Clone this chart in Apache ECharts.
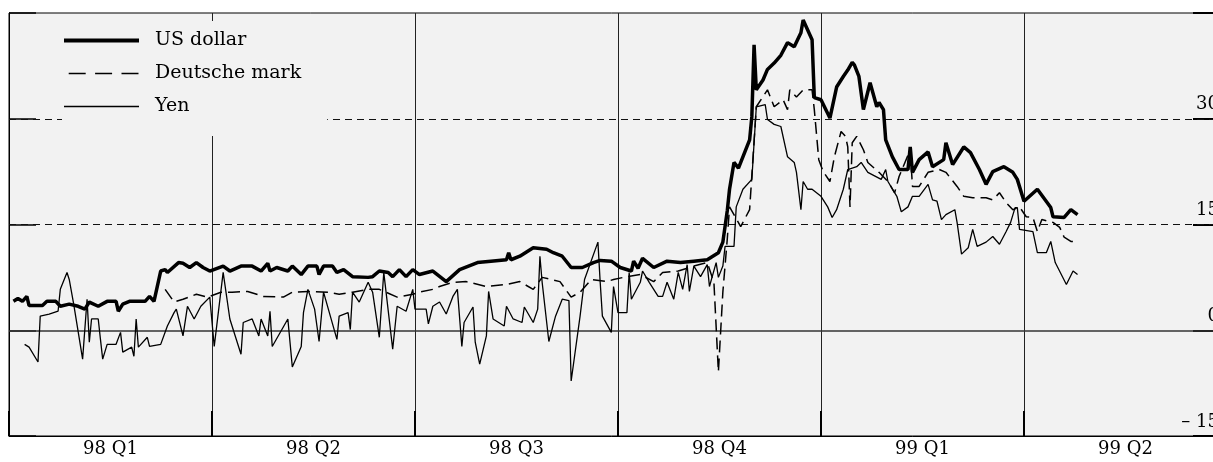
<!DOCTYPE html>
<html><head><meta charset="utf-8">
<script src="https://cdn.jsdelivr.net/npm/echarts/dist/echarts.min.js"></script>
<style>html,body{margin:0;padding:0;background:#fff}#c{width:1213px;height:462px}</style>
</head><body><div id="c"></div>
<script>
// quarter labels (x axis), day 0 = 1 Jan 1998, span = 6 quarters
const quarters = ['98 Q1','98 Q2','98 Q3','98 Q4','99 Q1','99 Q2'];
const daySpan = 546;
const yMin = -15, yMax = 45, yStep = 15;
const dashedLevels = [15, 30];
const solidLevels = [0];

// [day, percent]
const usDollar = [[2,4.1],[4,4.5],[6,4.1],[8,4.8],[9,3.5],[15,3.5],[17,4.1],[21,4.1],[23,3.4],[27,3.7],[31,3.4],[34,3.0],[36,4.0],[40,3.4],[44,4.1],[48,4.1],[49,2.7],[51,3.7],[54,4.1],[61,4.1],[63,4.8],[65,4.1],[68,8.4],[70,8.6],[71,8.2],[76,9.6],[78,9.5],[81,8.9],[84,9.6],[87,8.9],[90,8.4],[96,9.1],[99,8.4],[104,9.1],[109,9.1],[113,8.4],[116,9.5],[117,8.4],[120,8.9],[125,8.4],[127,9.1],[131,7.9],[134,9.1],[138,9.1],[139,7.9],[141,9.1],[145,9.1],[147,8.2],[150,8.6],[154,7.6],[161,7.5],[163,7.6],[166,8.4],[170,8.2],[172,7.6],[175,8.6],[178,7.6],[181,8.6],[184,7.9],[190,8.4],[192,7.9],[196,6.9],[202,8.6],[210,9.6],[216,9.8],[223,10.0],[224,11.0],[225,10.0],[229,10.5],[235,11.7],[241,11.5],[244,11.0],[248,10.5],[252,8.9],[257,8.9],[262,9.6],[265,9.9],[270,9.8],[274,8.9],[279,8.4],[280,9.8],[282,8.8],[284,10.2],[289,8.9],[295,9.8],[301,9.6],[307,9.8],[313,10.0],[318,11.0],[320,12.5],[322,17.0],[323,20.0],[325,23.8],[327,23.0],[332,27.0],[333,30.3],[334,40.5],[335,34.1],[338,35.5],[340,37.0],[343,37.9],[346,39.0],[349,40.8],[352,40.2],[355,42.2],[356,44.0],[360,41.2],[361,33.0],[364,32.7],[368,30.1],[371,34.5],[374,36.0],[376,36.9],[378,38.0],[379,37.6],[381,36.0],[383,31.3],[386,35.1],[389,31.7],[390,32.3],[392,31.3],[393,27.0],[396,24.6],[399,22.8],[403,22.8],[404,26.0],[405,22.4],[408,24.2],[412,25.3],[414,23.2],[419,24.2],[420,26.6],[423,23.5],[428,26.0],[431,25.2],[435,22.8],[438,20.7],[441,22.5],[446,23.2],[450,22.4],[452,21.4],[455,18.3],[461,20.0],[467,17.4],[468,16.1],[473,16.0],[476,17.1],[479,16.4]];

const deutscheMark = [[70,5.8],[74,4.0],[78,4.4],[84,5.1],[89,4.7],[95,5.4],[100,5.4],[107,5.5],[114,4.8],[123,4.7],[127,5.4],[134,5.5],[143,5.4],[148,5.1],[154,5.4],[161,5.8],[166,5.8],[174,4.7],[181,5.1],[184,5.4],[190,5.8],[193,6.2],[199,6.8],[205,6.9],[214,6.2],[223,6.5],[229,6.9],[235,5.8],[239,7.5],[247,6.9],[252,4.7],[256,5.4],[261,7.2],[268,6.9],[271,7.2],[277,7.6],[283,7.9],[289,6.9],[293,8.2],[300,8.4],[307,9.1],[313,9.6],[316,6.8],[318,-5.9],[320,5.4],[322,13.0],[323,17.5],[328,14.7],[332,17.1],[335,31.7],[340,34.1],[343,31.7],[347,32.7],[349,31.3],[350,34.1],[353,33.1],[356,34.1],[360,34.1],[361,31.3],[363,24.2],[365,22.5],[368,21.1],[370,24.6],[373,28.2],[375,27.5],[376,26.0],[377,17.5],[378,26.6],[380,27.5],[383,25.6],[385,23.8],[390,22.4],[394,21.1],[397,19.5],[399,21.8],[404,25.6],[405,20.4],[408,20.4],[412,22.4],[417,22.8],[420,22.4],[425,20.4],[428,19.0],[432,18.8],[438,18.8],[441,18.5],[444,19.5],[447,18.1],[450,17.1],[453,17.5],[456,16.1],[459,16.0],[461,14.0],[463,15.7],[468,15.3],[471,14.6],[473,13.2],[476,12.6],[479,12.6]];

const yen = [[7,-2.0],[9,-2.4],[13,-4.5],[14,2.0],[18,2.3],[22,2.7],[23,5.8],[26,8.2],[27,7.2],[29,3.7],[33,-4.1],[35,4.4],[36,-1.7],[37,1.6],[40,1.6],[41,-1.3],[42,-4.1],[44,-2.0],[48,-2.0],[50,-0.3],[51,-3.1],[55,-2.4],[56,-3.7],[57,1.6],[58,-2.4],[62,-1.0],[63,-2.3],[68,-2.0],[71,0.6],[74,2.5],[75,3.0],[78,-0.8],[80,3.4],[83,1.6],[86,3.4],[90,4.7],[92,-2.3],[96,8.2],[99,1.6],[104,-3.4],[105,1.1],[109,1.6],[112,-0.8],[113,1.6],[116,-0.8],[117,2.7],[118,-2.3],[125,1.6],[127,-5.2],[131,-2.3],[132,2.5],[134,5.8],[137,3.0],[139,-1.6],[141,5.4],[147,-1.3],[148,2.0],[152,2.5],[153,0.1],[154,5.4],[157,4.0],[161,6.8],[163,5.4],[166,-1.0],[168,8.2],[172,-2.7],[174,3.4],[178,2.7],[181,5.8],[182,3.0],[187,3.0],[188,0.9],[190,3.4],[193,4.0],[196,2.3],[199,4.8],[201,5.8],[203,-2.3],[204,1.1],[208,3.3],[209,-1.7],[211,-4.8],[214,-0.8],[215,5.5],[217,1.6],[222,0.6],[223,3.4],[226,1.6],[230,1.1],[231,3.3],[235,1.1],[237,3.0],[238,10.5],[239,6.8],[242,-1.6],[245,2.0],[248,4.4],[251,4.2],[252,-7.2],[256,2.0],[258,7.2],[264,12.5],[265,6.9],[266,2.0],[270,-0.3],[271,6.2],[273,2.5],[277,2.5],[278,8.2],[279,4.4],[283,6.8],[284,8.4],[287,6.8],[291,4.8],[293,4.8],[295,6.8],[298,4.4],[300,8.2],[302,5.8],[304,9.3],[305,5.5],[307,9.1],[310,7.6],[313,9.3],[314,6.2],[317,9.6],[318,7.5],[320,9.1],[321,11.9],[325,11.9],[326,17.5],[329,20.0],[333,21.4],[335,31.7],[339,32.0],[340,29.9],[343,29.2],[346,28.9],[349,24.6],[352,23.8],[353,22.4],[355,17.1],[356,21.1],[358,20.0],[360,20.0],[364,19.0],[367,17.5],[369,16.0],[371,17.1],[374,20.0],[376,22.8],[380,23.2],[382,23.8],[385,22.4],[391,21.4],[393,22.8],[394,21.1],[398,19.0],[400,16.8],[403,17.5],[405,19.0],[408,19.0],[412,20.7],[414,18.5],[416,18.3],[418,15.7],[420,16.4],[424,17.1],[425,15.3],[427,10.8],[430,11.7],[432,14.3],[434,11.9],[438,12.5],[441,13.3],[444,12.2],[447,14.0],[449,15.3],[451,17.4],[452,17.4],[453,14.3],[459,14.0],[461,11.0],[465,11.0],[467,12.6],[469,9.6],[474,6.5],[477,8.4],[479,7.9]];

const FONT = '"DejaVu Serif", "Liberation Serif", serif';
const chart = echarts.init(document.getElementById('c'), null, {renderer:'canvas'});

const gridLines = dashedLevels.map(v => ({yAxis: v, lineStyle:{type:[7,5], color:'#111', width:1}}))
  .concat(solidLevels.map(v => ({yAxis: v, lineStyle:{type:'solid', color:'#333', width:1.5}})));

const yCommon = {type:'value', min:yMin, max:yMax, interval:yStep, splitLine:{show:false}};

chart.setOption({
  animation:false,
  backgroundColor:'#ffffff',
  grid:{left:9, top:13, width:1218, height:423, outerBoundsMode:'none', containLabel:false,
        show:true, backgroundColor:'#f2f2f2', borderColor:'#000', borderWidth:1},
  legend:{
    orient:'vertical', left:62, top:21, padding:[10,26,20,0],
    backgroundColor:'#f2f2f2', itemWidth:75, itemHeight:14, itemGap:14,
    data:[{name:'US dollar', lineStyle:{width:4}},
          {name:'Deutsche mark', lineStyle:{width:1.5, type:[17,9.4], dashOffset:21.7}},
          {name:'Yen', lineStyle:{width:1.5}}],
    itemStyle:{color:'rgba(0,0,0,0)', borderWidth:0, opacity:0},
    textStyle:{fontFamily:FONT, fontSize:19, color:'#000', padding:[0,0,19,11]}
  },
  xAxis:[
    {type:'category', data:quarters, boundaryGap:true, position:'bottom',
     axisLine:{show:true, onZero:false, lineStyle:{color:'#000', width:1}},
     axisTick:{show:true, inside:true, length:25, interval:0, lineStyle:{color:'#000', width:2}},
     axisLabel:{interval:0, fontFamily:FONT, fontSize:18, color:'#000', margin:4},
     splitLine:{show:true, interval:0, lineStyle:{color:'#222', width:1}}},
    {type:'value', min:0, max:daySpan, show:false, axisLine:{onZero:false}}
  ],
  yAxis:[
    Object.assign({}, yCommon, {position:'left',
      axisLine:{show:true, onZero:false, lineStyle:{color:'#000', width:1}},
      axisTick:{show:true, inside:true, length:27, lineStyle:{color:'#000', width:1.5}},
      axisLabel:{show:false}}),
    Object.assign({}, yCommon, {position:'right',
      axisLine:{show:true, onZero:false, lineStyle:{color:'#000', width:1}},
      axisTick:{show:true, inside:true, length:34, lineStyle:{color:'#000', width:2}},
      axisLabel:{show:true, inside:true, margin:8, align:'right', verticalAlign:'bottom', padding:[0,0,5,0],
        fontFamily:FONT, fontSize:18, color:'#000', showMaxLabel:true,
        formatter: v => v === yMax ? '' : (v < 0 ? '\u2013 ' + Math.abs(v) : String(v))}})
  ],
  series:[
    {type:'line', name:'grid', xAxisIndex:1, yAxisIndex:0, data:[], z:1, silent:true,
     markLine:{silent:true, z:1, symbol:'none', label:{show:false}, animation:false, data:gridLines}},
    {type:'line', name:'US dollar', xAxisIndex:1, yAxisIndex:0, data:usDollar, symbol:'none', showSymbol:false, z:5,
     lineStyle:{color:'#000', width:3.5}, itemStyle:{color:'#000'}},
    {type:'line', name:'Deutsche mark', xAxisIndex:1, yAxisIndex:0, data:deutscheMark, symbol:'none', showSymbol:false, z:4,
     lineStyle:{color:'#000', width:1.5, type:[12,6]}, itemStyle:{color:'#000'}},
    {type:'line', name:'Yen', xAxisIndex:1, yAxisIndex:0, data:yen, symbol:'none', showSymbol:false, z:4,
     lineStyle:{color:'#000', width:1.3}, itemStyle:{color:'#000'}}
  ]
});
</script></body></html>
